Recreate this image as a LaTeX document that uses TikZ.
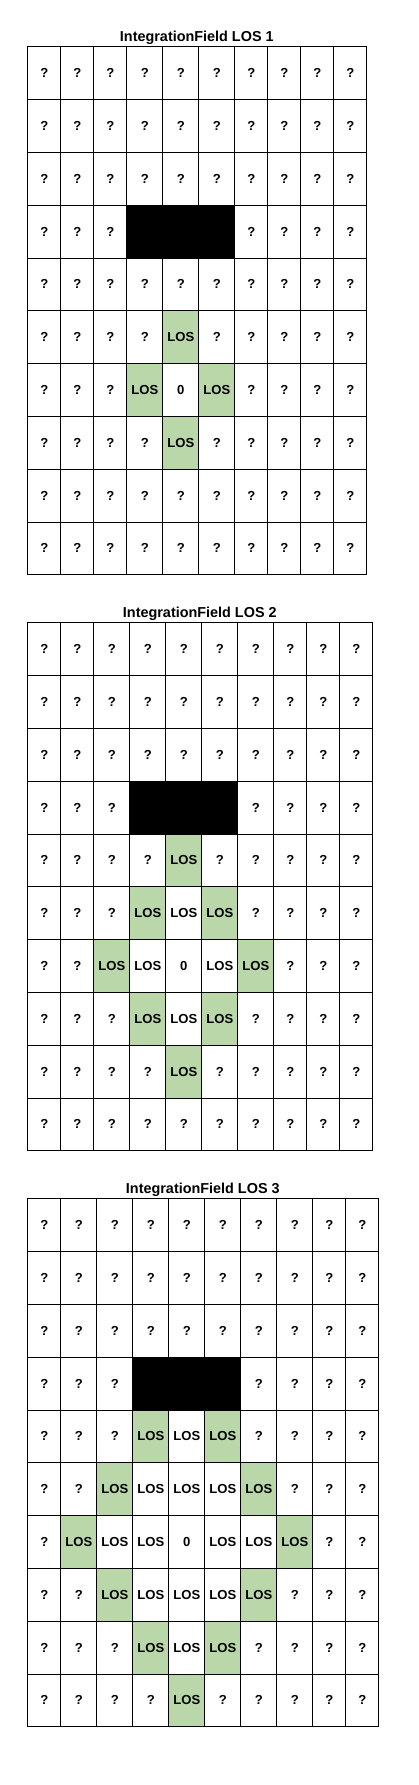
\documentclass[tikz,border=0pt]{standalone}
\usepackage{fontspec}
\setmainfont{Liberation Sans}
\usepackage{xcolor}
\usepackage{tikz}
\usetikzlibrary{positioning}
\definecolor{LOSGreen}{RGB}{185,215,168}
\tikzset{
    fieldcell/.style={
        draw, line width=0.75pt, inner sep=0pt, anchor=north west,
        minimum height=39.6pt, font=\fontsize{9.8}{12}\selectfont\bfseries
    },
    losnode/.style={
        fieldcell, fill=LOSGreen
    },
    wallnode/.style={
        fieldcell, fill=black
    },
    titlenode/.style={
        font=\fontsize{10.8}{13}\selectfont\bfseries, anchor=base, inner sep=0pt
    }
}

\begin{document}
\begin{tikzpicture}[x=0.75pt, y=-0.75pt]
    \useasboundingbox (0,0) rectangle (418,1785);
    \foreach \lvl in {1,2,3} {
        \pgfmathsetmacro{\gtop}{46.3+576*(\lvl-1)}
        \pgfmathsetmacro{\gwidth}{333+6*\lvl}
        \node[titlenode] (title\lvl) at ({27.3+\gwidth/2}, \gtop-4.6) {IntegrationField LOS \lvl};
        % cells, by distance from the start cell (row 6, column 4)
        \foreach \r in {0,...,9} {
            \foreach \c in {0,...,9} {
                \pgfmathtruncatemacro{\dist}{abs(\r-6)+abs(\c-4)}
                \pgfmathtruncatemacro{\wide}{abs(\c-4)<=\lvl ? 1 : 0}
                \pgfmathsetmacro{\cx}{27.3+33*\c+3*max(0,min(\c,5+\lvl)-(4-\lvl))}
                \pgfmathsetmacro{\cw}{(33+3*\wide)*0.75}
                \pgfmathsetmacro{\cy}{\gtop+52.8*\r}
                \pgfmathtruncatemacro{\kind}{(\r==3 && \c>2 && \c<6) ? 3 : (\dist==0 ? 0 : (\dist<\lvl ? 1 : (\dist==\lvl ? 2 : 4)))}
                \ifcase\kind
                    \node[fieldcell, minimum width=\cw pt] (f\lvl-\r-\c) at (\cx,\cy) {0};
                \or
                    \node[fieldcell, minimum width=\cw pt] (f\lvl-\r-\c) at (\cx,\cy) {LOS};
                \or
                    \node[losnode, minimum width=\cw pt] (f\lvl-\r-\c) at (\cx,\cy) {LOS};
                \or
                \or
                    \node[fieldcell, minimum width=\cw pt] (f\lvl-\r-\c) at (\cx,\cy) {?};
                \fi
            }
        }
        % wall across columns 3 to 5
        \pgfmathsetmacro{\wx}{126.3+3*(\lvl-1)}
        \node[wallnode, minimum width=81pt] (wall\lvl) at (\wx, \gtop+158.4) {};
    }
\end{tikzpicture}
\end{document}
